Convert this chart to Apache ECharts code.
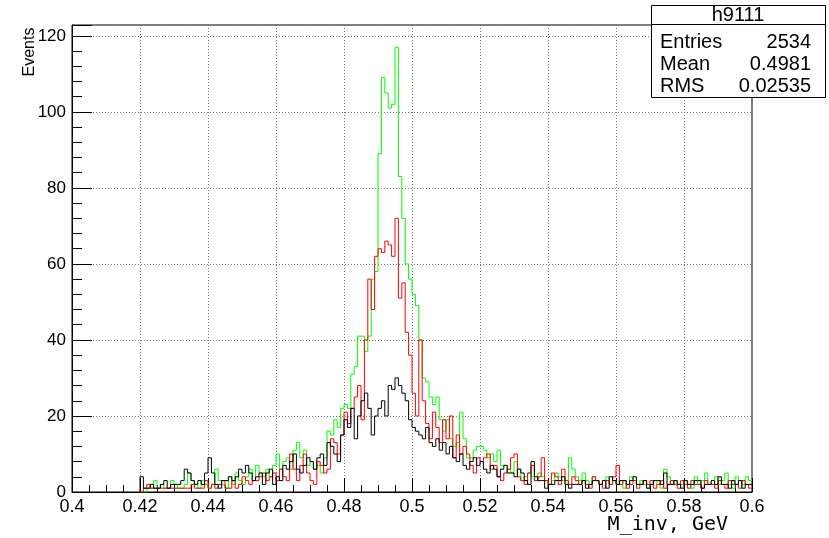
<!DOCTYPE html>
<html>
<head>
<meta charset="utf-8">
<script src="https://cdn.jsdelivr.net/npm/echarts@6/dist/echarts.min.js"></script>
<style>
  html, body { margin: 0; padding: 0; background: #fff; }
  #chart { width: 829px; height: 538px; }
</style>
</head>
<body>
<div id="chart"></div>
<script>
// Histogram binning: 180 bins of width 0.001 GeV starting at 0.420
const binStart = 0.420;
const binWidth = 0.001;

// Bin contents, one array per histogram (0.420 ... 0.599)
const greenCounts = [
  0, 0, 1, 1, 3, 1, 2, 1, 1, 3,
  2, 1, 1, 2, 5, 3, 2, 1, 3, 2,
  1, 2, 6, 3, 2, 1, 4, 2, 5, 3,
  2, 4, 6, 3, 7, 5, 4, 6, 4, 7,
  10, 6, 8, 9, 6, 11, 13, 9, 11, 7,
  8, 6, 7, 5, 9, 16, 15, 19, 17, 22,
  23, 22, 31, 33, 41, 41, 37, 41, 56, 58,
  89, 109, 105, 101, 102, 117, 83, 72, 60, 56,
  52, 49, 40, 30, 29, 25, 23, 25, 19, 16,
  19, 14, 12, 13, 21, 14, 9, 9, 11, 12,
  12, 11, 9, 10, 8, 11, 7, 7, 6, 5,
  8, 6, 3, 4, 5, 4, 3, 5, 4, 3,
  2, 3, 5, 4, 3, 2, 9, 6, 4, 3,
  5, 3, 2, 4, 3, 2, 3, 4, 2, 3,
  2, 3, 1, 2, 4, 3, 2, 3, 2, 1,
  2, 3, 2, 1, 6, 4, 2, 3, 2, 2,
  3, 2, 1, 4, 2, 3, 5, 2, 3, 4,
  2, 3, 5, 2, 1, 4, 3, 2, 4, 3
];

const redCounts = [
  0, 1, 2, 1, 1, 1, 1, 1, 1, 1,
  1, 1, 1, 1, 1, 2, 1, 1, 1, 3,
  1, 2, 1, 2, 3, 1, 1, 3, 1, 2,
  4, 3, 2, 3, 3, 4, 5, 3, 4, 5,
  3, 6, 4, 3, 10, 6, 3, 7, 10, 5,
  3, 2, 8, 7, 5, 6, 14, 13, 10, 15,
  21, 18, 22, 25, 28, 19, 40, 56, 48, 62,
  64, 63, 66, 65, 62, 72, 51, 55, 42, 36,
  26, 20, 40, 24, 18, 14, 21, 17, 13, 19,
  14, 20, 9, 15, 10, 12, 10, 7, 5, 9,
  8, 9, 10, 6, 7, 4, 3, 5, 6, 9,
  10, 4, 3, 2, 5, 7, 3, 4, 9, 3,
  2, 5, 4, 2, 6, 3, 2, 4, 3, 2,
  3, 2, 1, 4, 3, 2, 1, 3, 2, 4,
  7, 2, 3, 1, 2, 3, 1, 2, 3, 2,
  3, 1, 2, 3, 1, 2, 3, 2, 1, 3,
  2, 1, 3, 2, 2, 1, 3, 2, 2, 1,
  3, 2, 1, 3, 2, 2, 1, 3, 2, 1
];

const blackCounts = [
  4, 1, 1, 2, 1, 1, 2, 3, 1, 2,
  2, 2, 3, 6, 5, 3, 2, 3, 2, 5,
  9, 5, 2, 1, 3, 3, 4, 3, 4, 6,
  5, 7, 5, 3, 4, 5, 2, 5, 6, 2,
  4, 3, 7, 6, 8, 10, 6, 5, 7, 9,
  8, 6, 9, 10, 7, 13, 12, 10, 8, 15,
  19, 17, 22, 14, 20, 24, 26, 22, 15, 20,
  22, 24, 20, 28, 27, 30, 28, 26, 24, 19,
  17, 16, 15, 14, 17, 13, 12, 14, 11, 13,
  10, 12, 9, 8, 10, 7, 6, 8, 9, 7,
  8, 6, 5, 7, 6, 4, 6, 7, 5, 5,
  4, 6, 5, 3, 2, 8, 4, 3, 3, 1,
  2, 2, 3, 3, 4, 2, 1, 2, 2, 2,
  3, 1, 2, 3, 3, 2, 3, 1, 4, 3,
  2, 3, 3, 2, 3, 4, 2, 2, 3, 1,
  2, 3, 3, 2, 5, 2, 2, 3, 2, 1,
  3, 2, 2, 3, 3, 1, 2, 2, 3, 2,
  4, 2, 2, 1, 3, 2, 3, 1, 2, 2
];

// Axis settings
const xMin = 0.4, xMax = 0.6, xStep = 0.02;
const yMin = 0, yMax = 122.85, yStep = 20;

// Statistics box contents
const statsTitle = 'h9111';
const statsRows = [['Entries', '2534'], ['Mean', '0.4981'], ['RMS', '0.02535']];

// Turn bin contents into step-line points (left bin edges + closing edge)
function histPoints(counts) {
  const pts = [[binStart, 0]];
  counts.forEach((c, i) => pts.push([+(binStart + i * binWidth).toFixed(4), c]));
  pts.push([+(binStart + counts.length * binWidth).toFixed(4), counts[counts.length - 1]]);
  return pts;
}

function histSeries(counts, color) {
  return {
    type: 'line',
    step: 'end',
    data: histPoints(counts),
    showSymbol: false,
    symbol: 'none',
    lineStyle: { color: color, width: 1 },
    emphasis: { disabled: true },
    animation: false,
    clip: true
  };
}

const font = 'Liberation Sans, Arial, Helvetica, sans-serif';

const statsGraphic = [
  { type: 'rect', shape: { x: 651.5, y: 5.5, width: 174, height: 92 },
    style: { fill: '#fff', stroke: '#000', lineWidth: 1 }, z: 100 },
  { type: 'line', shape: { x1: 651.5, y1: 24.5, x2: 825.5, y2: 24.5 },
    style: { stroke: '#000', lineWidth: 1 }, z: 101 },
  { type: 'text', x: 738, y: 15.5, z: 102,
    style: { text: statsTitle, font: '20px ' + font, fill: '#000', align: 'center', verticalAlign: 'middle' } }
];
statsRows.forEach((row, i) => {
  const y = 42.5 + i * 22.2;
  statsGraphic.push({ type: 'text', x: 660, y: y, z: 102,
    style: { text: row[0], font: '20px ' + font, fill: '#000', align: 'left', verticalAlign: 'middle' } });
  statsGraphic.push({ type: 'text', x: 811, y: y, z: 102,
    style: { text: row[1], font: '20px ' + font, fill: '#000', align: 'right', verticalAlign: 'middle' } });
});

const chart = echarts.init(document.getElementById('chart'), null, { renderer: 'canvas' });
chart.setOption({
  animation: false,
  backgroundColor: '#fff',
  grid: { left: 72, right: 77, top: 25, bottom: 46, show: true,
          borderColor: '#000', borderWidth: 1, backgroundColor: 'transparent' },
  xAxis: {
    type: 'value', min: xMin, max: xMax, interval: xStep,
    axisLine: { show: true, onZero: false, lineStyle: { color: '#000', width: 1 } },
    axisTick: { show: true, inside: true, length: 14, lineStyle: { color: '#000' } },
    minorTick: { show: true, splitNumber: 4, length: 7, lineStyle: { color: '#000' } },
    splitLine: { show: true, lineStyle: { color: '#777', width: 1, type: [1, 2] } },
    axisLabel: { color: '#000', fontFamily: font, fontSize: 18, margin: 6,
                 formatter: v => String(+v.toFixed(3)) }
  },
  yAxis: {
    type: 'value', min: yMin, max: yMax, interval: yStep,
    axisLine: { show: true, onZero: false, lineStyle: { color: '#000', width: 1 } },
    axisTick: { show: true, inside: true, length: 20, lineStyle: { color: '#000' } },
    minorTick: { show: true, splitNumber: 5, length: 10, lineStyle: { color: '#000' } },
    splitLine: { show: true, lineStyle: { color: '#777', width: 1, type: [1, 2] } },
    axisLabel: { color: '#000', fontFamily: font, fontSize: 17, margin: 6, showMaxLabel: false,
                 formatter: v => (v % 20 === 0 ? String(v) : '') }
  },
  graphic: [
    { type: 'text', x: 30, y: 52, rotation: Math.PI / 2, z: 50,
      style: { text: 'Events', font: '16px ' + font, fill: '#000', align: 'center', verticalAlign: 'middle' } },
    { type: 'text', x: 728, y: 525, z: 50,
      style: { text: 'M_inv, GeV', font: '20px DejaVu Sans Mono, monospace', fill: '#000', align: 'right', verticalAlign: 'middle' } }
  ].concat(statsGraphic),
  series: [
    histSeries(greenCounts, '#00ff00'),
    histSeries(redCounts, '#ff0000'),
    histSeries(blackCounts, '#000000')
  ]
});
</script>
</body>
</html>
